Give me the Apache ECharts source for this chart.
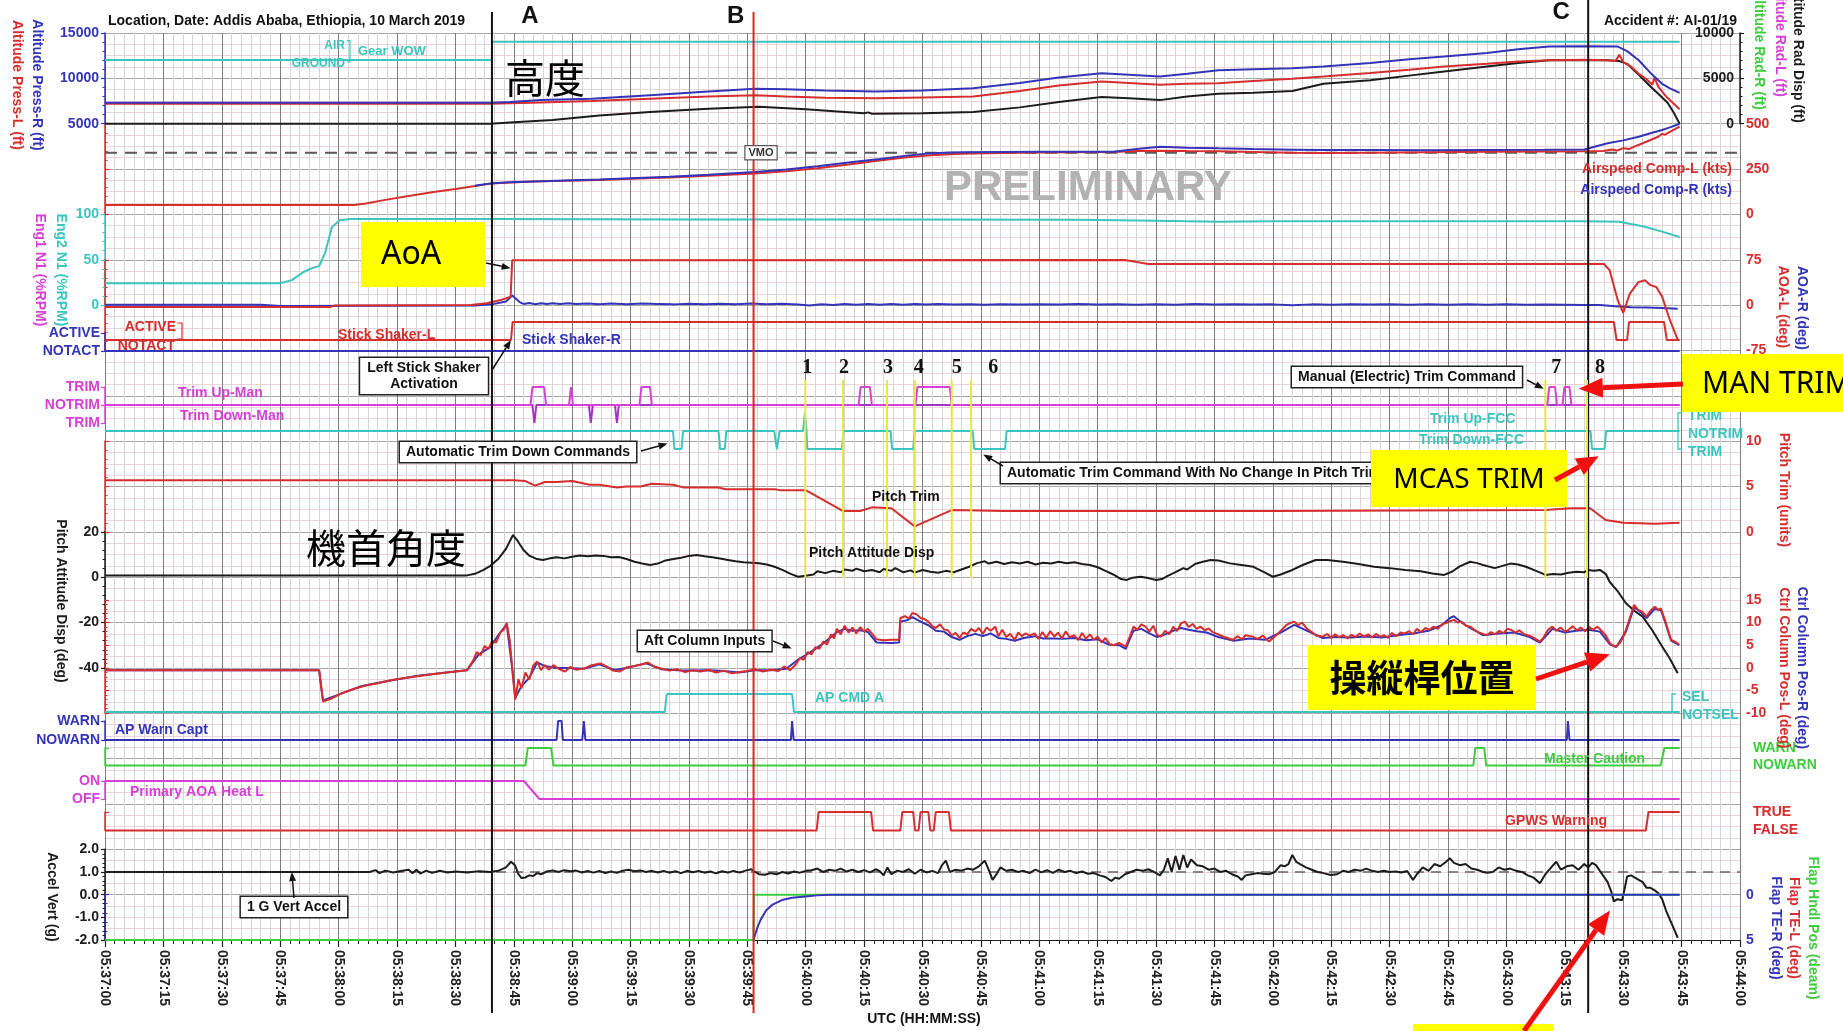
<!DOCTYPE html>
<html>
<head>
<meta charset="utf-8">
<script src="https://cdn.jsdelivr.net/npm/echarts@6/dist/echarts.min.js"></script>
<style>
html,body{margin:0;padding:0;background:#fff;}
#c{width:1843px;height:1031px;}
</style>
</head>
<body>
<div id="c"></div>
<script>
// ---------- flight data traces: [seconds after 05:37:00 UTC, value] ----------
const timeLabels = ['05:37:00','05:37:15','05:37:30','05:37:45','05:38:00','05:38:15','05:38:30','05:38:45',
  '05:39:00','05:39:15','05:39:30','05:39:45','05:40:00','05:40:15','05:40:30','05:40:45','05:41:00','05:41:15',
  '05:41:30','05:41:45','05:42:00','05:42:15','05:42:30','05:42:45','05:43:00','05:43:15','05:43:30','05:43:45','05:44:00'];

const gearWow = [[0,0],[99.4,0],[99.4,1],[404.5,1]];
const gearStates = ['GROUND','AIR'];

const altPressR = [[0,7300],[99,7300],[104,7400],[112,7600],[125,7750],[140,8150],[155,8550],[167,8850],[175,8800],
  [185,8650],[198,8550],[210,8650],[223,8900],[235,9500],[245,10100],[256,10550],[263,10400],[271,10200],[278,10500],
  [286,10900],[295,11000],[305,11100],[313,11300],[325,11700],[335,12100],[344,12400],[355,12800],[363,13200],
  [371,13500],[380,13550],[388.6,13500],[391,13000],[394,12000],[397,10600],[400,9400],[402,8900],[404.5,8400]];
const altPressL = [[0,7200],[99,7200],[104,7250],[112,7350],[125,7500],[140,7750],[155,8000],[167,8150],[175,8000],
  [185,7850],[198,7800],[210,7900],[223,8000],[235,8600],[245,9200],[256,9650],[263,9500],[271,9300],[278,9400],
  [286,9450],[295,9700],[305,9950],[313,10200],[325,10600],[335,10950],[344,11300],[355,11600],[363,11850],
  [371,12000],[380,12050],[386,12000],[388,11900],[389,12600],[390,11800],[392,11300],[394,10500],[396,9900],
  [397.5,9300],[398,10100],[399,9100],[401,8000],[403,7200],[404.5,6600]];
const altRadio = [[0,0],[99,0],[105,150],[115,400],[127,900],[140,1300],[155,1650],[168,1870],[180,1600],[190,1300],
  [195,1150],[196,1250],[197,1100],[210,1150],[223,1300],[235,1800],[245,2400],[256,2950],[263,2800],[271,2600],
  [278,3000],[286,3300],[295,3400],[305,3600],[313,4400],[325,4800],[335,5300],[344,5750],[355,6300],[363,6700],
  [371,7000],[380,7000],[386,7000],[389,6900],[391,6600],[394,5400],[397,4100],[399,3300],[401.4,2300],[403,1200],[404.5,0]];

const vmoKts = 340;
const airspeedL = [[0,52],[64,52],[67,60],[72,80],[78,102],[84,122],[90,140],[95,156],[99.4,171],[104,176],[110,181],
  [118,185],[127,190],[135,196],[145,204],[155,213],[167,226],[175,238],[183,255],[191,275],[199,297],[206,315],
  [212,326],[220,334],[230,339],[240,341],[250,343],[259,344],[265,349],[271,351],[278,349],[286,348],[295,344],
  [305,340],[313,338],[325,340],[340,343],[355,345],[370,347],[380,348],[385,350],[387,358],[388.5,352],[390,365],
  [391.5,360],[393,375],[395,392],[397,410],[399,428],[400,445],[400.6,438],[402,455],[404.5,484]];
const airspeedR = [[95,158],[99.4,172],[104,177],[110,182],[118,187],[127,192],[135,199],[145,208],[155,219],[167,234],
  [175,247],[183,265],[191,286],[199,306],[206,324],[212,337],[220,342],[230,344],[240,345],[250,345],[259,346],
  [265,360],[271,373],[278,368],[286,364],[295,360],[305,357],[313,355],[325,355],[340,354],[355,355],[370,356],
  [380,358],[386,392],[390,408],[394,428],[397,447],[400,465],[402,480],[404.5,500]];

const n1Eng2 = [[0,24],[45,24],[48,27.5],[51,36.5],[53,40.5],[55,43],[56.5,57],[58.3,86],[60.3,93.5],[63,95],[100,95],
  [150,94.5],[200,94.5],[250,94],[270,93],[286,92],[300,92.5],[350,92.5],[380,92.5],[389,92],[395,87],[400,81],[404.5,75]];

const aoaL = [[0,-3],[58,-3],[59,-0.5],[94,0],[98,3],[102,9],[104.2,14],[104.6,74],[262,74.5],[268,68],[385,68],
  [386.5,58],[388.6,8],[390,-13],[391.7,19],[393.9,38],[395.6,41],[397,33],[398.5,30],[400,14],[402,-25],[404,-57]];
const aoaR = [[0,0.5],[40,0.5],[45,-1.5],[95,-0.5],[100,2],[103,6],[104.6,16],[105.5,11],[106.5,5],[107.5,2],[109,3.5],
  [110.5,1.5],[112,3],[113.5,1.8],[115,3.2],[117,2],[119,3],[121,1.8],[124,2.6],[127,1.5],[130,2.5],[134,1.6],[138,2.8],
  [142,2],[146,1.2],[150,2.2],[154,1.5],[158,2.4],[162,1.6],[166,2.5],[170,1.4],[174,2.2],[178,0.8],[181,-0.5],[184,1.5],
  [187,0],[190,1.8],[193,0.5],[196,2],[199,0.6],[202,1.8],[205,0.5],[208,2],[211,1],[214,1.8],[218,0.8],[222,1.6],
  [226,0.6],[230,1.5],[235,0.8],[240,1.6],[245,1],[250,1.8],[255,1],[260,1.5],[265,0.5],[270,1.5],[275,0.6],[280,1.8],
  [285,1],[290,1.6],[295,0.8],[300,1.2],[305,-0.4],[310,1.2],[315,0.6],[320,1.4],[325,0.8],[330,1.2],[335,0.5],[340,1.5],
  [345,0.6],[350,1.3],[355,0.6],[360,1.2],[365,0.5],[370,1],[375,0.6],[380,0.2],[384,0],[388,-2],[392,-3.5],[396,-4],
  [400,-5],[404,-6]];

const shakerStates = ['NOTACT','ACTIVE'];
const shakerL = [[0,0],[104.3,0],[104.7,1],[387.6,1],[388.3,0],[391,0],[391.5,1],[400.5,1],[401.2,0],[404.5,0]];
const shakerR = [[0,0],[404.5,0]];

const trimStates = {'-1':'TRIM','0':'NOTRIM','1':'TRIM'};
const trimUpMan = [[0,0],[109.3,0],[109.8,1],[112.8,1],[113.3,0],[119.2,0],[119.7,1],[120.2,0],[137.3,0],[137.8,1],
  [140,1],[140.5,0],[193.6,0],[194.1,1],[196.5,1],[197,0],[208.2,0],[208.7,1],[217,1],[217.5,0],[370.5,0],[371,1],
  [372.5,1],[373,0],[374.4,0],[374.9,1],[376.2,1],[376.7,0],[404.5,0]];
const trimDownMan = [[0,0],[109.8,0],[110.3,-1],[110.8,0],[124.3,0],[124.8,-1],[125.3,0],[131,0],[131.5,-1],[132,0],[404.5,0]];
const trimFcc = [[0,0],[145.9,0],[146.3,-1],[148.1,-1],[148.5,0],[157.6,0],[158,-1],[159.2,-1],[159.6,0],[171.9,0],
  [172.6,-1],[173.3,0],[179.3,0],[179.8,1],[180.2,0],[180.4,-1],[189.3,-1],[189.7,0],[201.8,0],[202.2,-1],[207.6,-1],
  [208,0],[222.9,0],[223.3,-1],[231.2,-1],[231.6,0],[381.6,0],[382,-1],[385.2,-1],[385.6,0],[404.5,0]];

const pitchTrim = [[0,5.7],[105,5.7],[108,5.6],[110.5,5.1],[113,5.5],[116,5.5],[120,5.6],[124.5,5.2],[127,5.2],
  [131.5,4.9],[134,5],[137.5,5],[140.5,5.3],[146,5.2],[148.5,4.9],[157.5,4.9],[159.5,4.7],[165,4.7],[172,4.7],
  [173.5,4.6],[180,4.6],[189.5,2.3],[194,2.3],[197,2.7],[202,2.6],[208,0.6],[217.5,2.4],[231,2.3],[300,2.3],
  [370,2.4],[376.5,2.6],[381.5,2.6],[385.5,1.3],[390,1],[398,0.9],[404.5,1]];

const pitchAttitude = [[0,0.8],[93,0.8],[95,1.5],[97,3],[99,5],[101,8],[103,12.5],[104.8,18.6],[106,16],[107.5,12],
  [109,9.5],[111,8],[112.5,7.6],[114,8.2],[116,8.8],[118,8.3],[120,9],[122,9.6],[124,9.2],[126,9.6],[128,9.4],[130,8.8],
  [132,8.9],[134,8],[136,6.8],[138,6],[140,5.4],[142,6],[144,7.4],[146,8],[148,8.6],[150,9.4],[152,9.8],[154,9.2],
  [156,8.8],[158,8.2],[160,7.6],[162,7],[164,6.6],[166,6.4],[168,6.2],[170,5.6],[172,4.6],[174,3.2],[176,1.6],[178,0.2],
  [180,0.6],[182,1.2],[183,2.6],[185,1.8],[187,2.8],[189,2.2],[190,3.4],[192,2.8],[193,3.8],[195,2.6],[197,3.2],[199,2.2],
  [200,3.6],[202,2.8],[203,4],[205,2.2],[207,3],[208,2],[210,3.2],[212,2.4],[214,2],[216,2.8],[218,2.2],[220,3.4],
  [222,4.6],[224,6.2],[226,7],[227,6],[229,6.8],[231,5.8],[233,6.6],[235,6],[237,6.8],[239,5.6],[241,6.4],[243,6],
  [245,6.8],[247,6.2],[249,6.6],[251,5.8],[253,5.4],[255,4.4],[257,2.8],[259,1.2],[261,-0.8],[262.5,-1.2],[264,-0.2],
  [266,0.2],[268,-0.4],[270,-1.2],[271.5,-0.8],[273,0.6],[275,2.2],[277,4],[278,3.4],[280,5.8],[282,6.8],[284,7.6],
  [286,7.4],[289,6.1],[292,5.4],[295,4.6],[298,2],[300,0.2],[302,1.2],[305,3.2],[308,5.6],[311,7.6],[314,7.6],[318,6.8],
  [322,5.8],[326,4.6],[330,4],[334,3.2],[338,2.6],[341,1.6],[344,1],[346,2.4],[348,4.8],[350.7,6.8],[352.5,6.2],[354,5.4],
  [357,4],[359,5],[361,6],[363,5.6],[365,4.6],[367,3.2],[369,1.8],[370,1],[372,1.4],[374,1.2],[376,2],[378,2.4],[380,2.2],
  [381,3.2],[382.5,2.8],[384,3.2],[385.5,1.5],[386.5,-2],[388.5,-6],[390.7,-11.5],[393,-15],[395,-17.4],[397.5,-23.5],
  [400,-30.6],[402,-36],[404,-42.4]];

const columnL = [[0,-0.5],[55,-0.5],[56,-7.4],[58,-6.8],[61,-5.5],[64,-4.6],[67,-3.9],[70,-3.4],[74,-2.6],[78,-2.1],
  [82,-1.6],[86,-1.2],[90,-0.8],[93,-0.5],[94.5,1.5],[95.5,3.5],[96.5,2.8],[97.5,4.8],[98.5,4.2],[99.5,6],[100.5,5.6],
  [101.5,7.8],[102.5,8.5],[103.2,9.9],[104,6],[104.8,-2],[105.4,-7],[106.2,-2.5],[107,-4.5],[108,-1],[109,-2.6],
  [110,0.5],[111,1.4],[112,-0.5],[113,0.6],[114,-0.4],[115.2,0.6],[116.5,-0.2],[118.2,-0.8],[119.5,0.2],[121,-0.4],
  [123.3,-0.1],[125,0.6],[127.3,1],[129,0.2],[130.5,-0.6],[132.2,-0.8],[134,0.1],[136,0.4],[138,0.8],[139.5,1.2],
  [141,0.3],[143,-0.2],[145,-0.6],[147,-0.3],[149,-0.9],[151,-0.5],[153,-0.8],[155,-0.4],[157,-1],[159,-0.6],
  [161,-1.2],[163,-0.9],[165,-0.7],[167,-0.3],[169,-0.8],[171,-0.4],[173,-0.7],[174.5,0.3],[176,-0.5],[177.5,0.8],
  [178.5,2.2],[179.5,1.8],[180.5,3.5],[181.5,3],[182.5,4.6],[183.5,4.2],[184.5,5.8],[185.5,5.2],[186.5,7.4],[187.3,6.5],
  [188,8.6],[189,7.4],[190,9.3],[191,7.8],[192,8.9],[193,7.6],[194,9],[195,8],[196,8.6],[197.2,7.4],[198.2,6.3],
  [200,6.1],[202,6.2],[204,6.2],[204.3,11],[205.5,11.4],[206.5,10.9],[207.4,12.1],[208.5,11.8],[209.5,11],[210.4,10.8],
  [211.5,10.2],[212.5,9.2],[213.4,8.8],[214.5,9.6],[215.5,8.5],[216.5,8.3],[217.5,7.2],[218.5,7.7],[219.5,6.6],
  [220.5,7.8],[221.5,7.4],[222.5,8.6],[223.6,8],[224.5,8.8],[225.5,7.5],[226.5,8.9],[227.5,8.2],[228.7,9.1],[229.5,7],
  [230.5,8.4],[231.5,6.8],[232.5,7.5],[233.7,6.2],[234.6,7.8],[235.5,7],[236.5,7.6],[237.5,7.1],[238.8,7.6],[239.8,6.4],
  [240.8,7.9],[241.8,6.6],[242.8,8.1],[243.9,6.9],[244.8,7.8],[245.8,6.5],[246.8,8],[247.8,6.8],[249,7.2],[250,6.1],
  [251,7.7],[252,6.4],[253,7.4],[254,6.2],[255,6.9],[256,5.6],[257,6.6],[258,5.3],[259.1,5],[260.5,5.5],[262.2,4.7],
  [263.2,6.8],[264.2,9.1],[265.2,8.4],[266.2,9.6],[267.3,9.1],[268.3,8],[269.3,9.3],[270.3,7.2],[271.3,6.9],[272.3,8.2],
  [273.4,7.4],[274.4,9.1],[275.4,8.1],[276.4,9.8],[277.4,10.2],[278.4,9],[279.4,9.7],[280.4,8.6],[281.4,9.1],[282.5,8.3],
  [283.5,8.7],[284.5,7.9],[285.4,7.6],[286.5,7.2],[287.6,6.8],[289.7,6.2],[291,7],[292,6.3],[293,7.2],[294.8,6.9],
  [296,6.4],[297.5,7.1],[299,5.8],[300.5,6.9],[302.3,8.4],[303.5,9.5],[304.5,9.9],[305.5,10.2],[306.5,9.4],[307.5,10],
  [308.7,8.7],[310,7.9],[311.2,7.1],[312.8,6.9],[314,7.5],[315,6.6],[316,7.4],[317,6.8],[318.1,7.2],[319.2,6.5],
  [320.2,7.3],[321.3,6.8],[322.3,7.6],[323.4,6.9],[324.5,7.4],[325.5,6.7],[326.5,7.5],[327.5,6.9],[328.6,7.2],
  [329.6,6.6],[330.6,7.7],[331.7,7],[332.8,7.8],[333.9,7.6],[335,8.1],[336,7.4],[337,8.6],[338,7.9],[339.2,8.8],
  [340.2,8.4],[341.3,9.1],[342.4,8.6],[343.4,9.6],[344.5,9.9],[345.5,10.3],[346.5,10.6],[347.5,10],[348.5,10.2],
  [349.6,9.3],[350.7,9.1],[351.8,8.4],[352.8,7.9],[354,7.5],[355,7.2],[356,7.9],[357.1,7.4],[358.2,8.2],[359.2,7.6],
  [360.2,8.6],[361.2,8.4],[362.3,7.8],[363.3,8.3],[364.4,7.5],[365.5,7.2],[366.5,6.9],[367.5,6.4],[368.6,5.8],
  [369.6,6.8],[370.7,8.4],[371.8,9.1],[372.8,8.2],[373.9,8.9],[375,8],[376,8.4],[377,9.2],[378.1,8.3],[379.1,8.9],
  [380.2,8.1],[381.3,9],[382.3,8.4],[383.4,9.1],[384.4,8.2],[385.5,7.2],[386.6,5.4],[387.4,4.9],[388.2,4.7],[389.2,5.6],
  [390,6.8],[390.7,8.4],[391.7,11],[392.8,13.9],[393.8,12.8],[394.9,12.4],[396,11.3],[397,12.6],[398.1,13.5],[399,12.8],
  [399.7,13.1],[400.7,10.6],[401.5,8.4],[402.3,6.2],[403.3,5.8],[404.4,5.1]];
const columnR = [[0,-0.5],[55,-0.5],[56,-7.2],[60,-5.9],[66,-4],[72,-3],[80,-1.8],[90,-0.8],[93,-0.5],[96,3],[99,4.6],
  [101,7.2],[103.2,9.6],[104.8,-1.5],[105.4,-6.6],[107,-4],[109,-2.2],[111,1.2],[113,0.4],[116,0],[119,0],[123,-0.2],
  [127,0.8],[131,-0.5],[135,0.2],[139,1],[143,-0.3],[147,-0.5],[151,-0.6],[155,-0.5],[159,-0.7],[163,-1],[167,-0.5],
  [171,-0.5],[175,-0.2],[178,1.8],[180.5,3.1],[182.5,4.2],[184.5,5.4],[186.5,6.8],[188,7.9],[190,8.6],[192,8.2],
  [194,8.3],[196,7.9],[198.2,5.6],[202,5.5],[204,5.6],[204.3,10.2],[206,10.5],[207.4,11.2],[209.5,10.2],[211.5,9.4],
  [213.4,8.2],[215.5,8],[217.5,6.8],[219.5,6.2],[221.5,7],[223.6,7.5],[225.5,7],[227.5,7.6],[229.5,6.6],[231.5,6.4],
  [233.7,6],[236,6.6],[238.8,7],[241,6.5],[243.9,6.5],[246,6.4],[249,6.6],[252,6.1],[255,6.3],[258,5.1],[260.5,5],
  [262.2,4.2],[264.2,8.2],[266.2,8.6],[268.3,7.6],[270.3,6.8],[272.3,7.4],[274.4,8.2],[276.4,8.8],[278.4,8.4],
  [280.4,8.1],[283,7.8],[286,6.8],[290,6],[294,6.5],[298,6.2],[302,7.8],[305.5,9.5],[308.7,8.2],[312.8,6.6],[316,6.8],
  [320,6.7],[324,6.9],[328,6.7],[332,7.2],[336,7.6],[340,8.2],[343.4,9.4],[345.5,11],[346.5,11.4],[348.5,10],
  [350.7,8.8],[354,7.2],[358,7.6],[362,7.8],[366,6.8],[368.6,5.6],[371.8,8.6],[375,7.8],[378,8.2],[381,8.4],[384,8],
  [386.6,5.2],[388.2,4.6],[390.7,8],[392.8,13.4],[394.9,12],[396,11],[398.1,13],[399.7,12.7],[400.7,10.3],[402.3,6],[404.4,5]];

const selStates = ['NOTSEL','SEL'];
const apCmdA = [[0,0],[143.8,0],[144.3,1],[176.5,1],[177,0],[404.5,0]];
const warnStates = ['NOWARN','WARN'];
const apWarnCapt = [[0,0],[116,0],[116.4,1],[117.3,1],[117.6,0],[122.6,0],[123,1],[123.4,0],[176.2,0],[176.5,1],
  [176.9,0],[375.5,0],[375.8,1],[376.2,0],[404.5,0]];
const masterCaution = [[0,0],[108,0],[108.6,1],[114.6,1],[115.2,0],[351.5,0],[352,1],[354.3,1],[354.8,0],[399.6,0],
  [400.6,1],[404.5,1]];
const heatStates = ['OFF','ON'];
const aoaHeatL = [[0,1],[107.6,1],[111.6,0],[404.5,0]];
const gpwsStates = ['FALSE','TRUE'];
const gpwsWarning = [[0,0],[182.8,0],[183.3,1],[196.8,1],[197.3,0],[204.3,0],[204.8,1],[207.6,1],[208.1,0],[209,0],
  [209.5,1],[211.5,1],[212,0],[212.9,0],[213.4,1],[216.8,1],[217.3,0],[395.8,0],[396.5,1],[404.5,1]];

const vertAccel = [[0,1],[68,1],[69.5,1.08],[70.5,0.95],[72,1.06],[74,0.98],[76,1.04],[78,1.1],[79,0.94],[80,1.1],
  [81,0.93],[82.5,1.06],[84,0.96],[86,1.05],[88,0.98],[90,1.02],[93,0.98],[96,1.03],[99,1],[101,1.05],[103,1.2],
  [104.3,1.45],[105.3,1.3],[106.2,0.9],[107,0.73],[108,0.76],[109,0.85],[110,0.82],[111,0.95],[112,0.9],[113.5,1.02],
  [115,1.07],[116.5,1],[118,1.08],[119.5,1.03],[121,1.06],[122.5,0.98],[124,1.04],[125.5,0.97],[127,1.05],[128.5,0.95],
  [130,1.02],[131.5,0.96],[133,1.06],[134.5,1.1],[136,1.03],[137.5,1.07],[139,1],[140.5,1.05],[142,0.98],[143.5,1.04],
  [145,0.97],[146.5,1.03],[148,0.95],[149.5,1.05],[151,0.99],[152.5,1.04],[154,0.97],[155.5,1.02],[157,0.94],
  [158.5,1.03],[160,0.98],[161.5,1.05],[163,0.97],[164.5,1.06],[166,1.12],[167,1],[168,0.9],[169.5,0.88],[171,0.95],
  [172.5,0.9],[174,1],[175.5,0.93],[177,1.02],[178.5,0.97],[180,1.05],[181.5,1.08],[183,1.15],[184.5,1],[186,1.1],
  [187.5,1.05],[189,1.15],[190.5,1.02],[192,1.1],[193.5,1],[195,1.08],[196.5,0.98],[198,1.12],[199,1.04],[200,0.85],
  [201,1.2],[202,0.9],[203.5,1.06],[205,1],[206.5,1.12],[208,0.92],[209.5,1.1],[211,0.98],[212.5,1.05],[214,0.95],
  [215,1.3],[216,1.5],[217,1],[218.5,1.1],[220,1.06],[221.5,1.15],[223,1.1],[224.5,1.25],[226,1.5],[227,1.1],[228,0.65],
  [229,0.9],[230,1.2],[231.5,1.05],[233,1.1],[234.5,1],[236,1.05],[237.5,0.95],[239,1.1],[240.5,0.98],[242,1.08],
  [243.5,0.96],[245,1.1],[246.5,1],[248,1.05],[249.5,0.95],[251,1.02],[252.5,0.92],[254,0.95],[255.5,0.85],[257,0.78],
  [258.5,0.6],[259.5,0.75],[260.5,0.7],[262,0.9],[263.5,1],[265,1.1],[266.5,1.05],[268,1.12],[269.5,1],[271,0.85],
  [272,1.1],[273,1.6],[274,1],[275,1.7],[276,1.1],[277,1.75],[278,1.2],[279,1.55],[280.5,1.3],[282,1.25],[283.5,1.1],
  [285,1.15],[286.5,1],[288,1.05],[289.5,0.9],[291,0.8],[292,0.65],[293,0.85],[294.5,0.9],[296,0.95],[297.5,0.92],
  [299,0.9],[300.5,1],[302,1.3],[303,1.25],[304,1.35],[305,1.75],[306,1.45],[307,1.35],[308.5,1.2],[310,1.1],[311.5,1],
  [313,0.95],[314.8,0.87],[316.5,0.9],[318,1.05],[319.5,1],[321,1.1],[322.5,1.05],[324,1.15],[325.5,1.05],[327,1],
  [328.5,1.05],[330,1],[331.5,1.02],[333,0.98],[334.5,1.04],[336,0.65],[337,0.9],[338.5,1.2],[340,1.05],[341.5,1.35],
  [343,1.25],[344.5,1.45],[345.5,1.6],[346.5,1.4],[348,1.3],[349.5,1.35],[351,1.15],[352.5,1.1],[354,1],[355,0.96],
  [356.5,1],[358,1.2],[359.5,1.1],[361,1.15],[362.5,1.05],[364,1],[365.5,0.85],[367,0.75],[368.6,0.5],[370,0.9],
  [371.5,1.2],[372.8,1.45],[374,1.1],[375.5,1.25],[377,1.3],[378.5,1.1],[380,1.35],[381,1.2],[382,1.4],[383,1.3],
  [384,1.05],[385,0.8],[386,0.55],[387,0.1],[387.6,-0.3],[388.5,-0.2],[389.7,-0.25],[390.3,0.2],[391,0.8],[392,0.85],
  [393,0.75],[394,0.65],[395,0.55],[396,0.3],[397,0.3],[398,0.2],[399,0.07],[400,-0.2],[401,-0.7],[402,-1.1],[403,-1.5],[404,-1.9]];
const oneG = [[0,1],[420,1]];

const flapHandle = [[0,5],[166.6,5],[166.7,0],[404.5,0]];
const flapTE = [[166.6,5],[167,4.4],[167.7,3.5],[168.5,2.7],[169.9,1.7],[171.5,1.1],[173.9,0.6],[176.5,0.35],
  [179.9,0.2],[183,0.08],[186,0],[404.5,0]];

const eventMarks = [{name:'A', t:99.4}, {name:'B', t:166.6}, {name:'C', t:381}];
const trimEvents = [179.9, 189.6, 200.9, 208.0, 217.5, 222.5, 370.0, 380.7];
const trimEventNames = ['1','2','3','4','5','6','7','8'];

// ---------- layout ----------
const L = 105, R = 1740, PW = R - L;
const TOP = 33, MAJ = 45.35;
const yk = k => TOP + k * MAJ;
const FAM = '"Liberation Sans", Arial, sans-serif';
const FS = 14;
const BLUE = '#3434b8', RED = '#d62e2e', CYAN = '#3cc4bf', MAG = '#d640d6', PURP = '#a532c4',
      GREEN = '#3ecb3e', BLACK = '#1c1c1c', YEL = '#e6e645';

const grids = [], xAxis = [], yAxis = [], series = [];
function addGrid(top, height, xcfg) {
  grids.push({left: L, top: top, width: PW, height: height});
  const gi = grids.length - 1;
  xAxis.push(Object.assign({type: 'value', gridIndex: gi, min: 0, max: 420, show: false}, xcfg || {}));
  return gi;
}
function addY(gi, cfg) {
  yAxis.push(Object.assign({type: 'value', gridIndex: gi, splitLine: {show: false}, axisLine: {show: false},
    axisTick: {show: false}, axisLabel: {show: false}}, cfg));
  return yAxis.length - 1;
}
const lab = (color, extra) => Object.assign({show: true, color: color, fontFamily: 'Liberation Sans',
  fontWeight: 'bold', fontSize: FS, margin: 6, formatter: v => String(v)}, extra || {});
const aline = color => ({show: true, lineStyle: {color: color, width: 1.5}});
const atick = color => ({show: true, length: 4, lineStyle: {color: color, width: 1.2}});
const mtick = color => ({show: true, splitNumber: 5, length: 2.5, lineStyle: {color: color}});
function numAxis(gi, pos, min, max, interval, color, extra) {
  return addY(gi, Object.assign({position: pos, min: min, max: max, interval: interval,
    axisLine: aline(color), axisTick: atick(color), minorTick: mtick(color), axisLabel: lab(color)}, extra || {}));
}
function stateAxis(gi, pos, min, names, color, extra) {
  return addY(gi, Object.assign({position: pos, min: min, max: 1, interval: 1,
    axisLine: aline(color), axisTick: atick(color),
    axisLabel: lab(color, {margin: 5, formatter: v => names[v]})}, extra || {}));
}

// background grid: fine lines, then the heavier 15 s / major lines with the time axis
const gFine = addGrid(TOP, 20 * MAJ, {show: true, interval: 2.5, axisLine: {show: false}, axisTick: {show: false},
  axisLabel: {show: false}, splitLine: {show: true, lineStyle: {color: '#d6d6d6', width: 1}}});
addY(gFine, {min: 0, max: 80, interval: 1, splitLine: {show: true, lineStyle: {color: '#edd3d9', width: 1}}});
const gMain = addGrid(TOP, 20 * MAJ, {show: true, interval: 15,
  splitLine: {show: true, lineStyle: {color: '#7c7c7c', width: 1}},
  axisLine: {show: true, lineStyle: {color: '#222', width: 1.2}},
  axisTick: {show: true, length: 7, lineStyle: {color: '#222', width: 1.2}},
  minorTick: {show: true, splitNumber: 6, length: 4, lineStyle: {color: '#222'}},
  axisLabel: {show: true, rotate: -90, margin: 10, color: '#222', fontFamily: 'Liberation Sans', fontWeight: 'bold',
    fontSize: FS, formatter: v => timeLabels[Math.round(v / 15)]}});
addY(gMain, {min: 0, max: 20, interval: 1, splitLine: {show: true, lineStyle: {color: '#a6a6a6', width: 1}}});

// analogue bands
const gAlt = addGrid(yk(0), 2 * MAJ);
const yAltP = numAxis(gAlt, 'left', 5000, 15000, 5000, BLUE);
const yAltR = numAxis(gAlt, 'right', 0, 10000, 5000, BLACK, {axisLabel: lab(BLACK, {inside: true})});
const gSpd = addGrid(yk(2), 2 * MAJ);
const ySpd = numAxis(gSpd, 'right', 0, 500, 250, RED);
const gN1 = addGrid(yk(4), 2 * MAJ);
const yN1 = numAxis(gN1, 'left', 0, 100, 50, CYAN);
const gAoa = addGrid(yk(5), 2 * MAJ);
const yAoa = numAxis(gAoa, 'right', -75, 75, 75, RED);
const gTrim = addGrid(yk(9), 2 * MAJ);
const yTrim = numAxis(gTrim, 'right', 0, 10, 5, RED);
const gPitch = addGrid(yk(11), 3 * MAJ);
const yPitch = numAxis(gPitch, 'left', -40, 20, 20, BLACK);
const gCtrl = addGrid(yk(14) - 1.5 * MAJ, 2.5 * MAJ);
const yCtrl = numAxis(gCtrl, 'right', -10, 15, 5, RED);
const gAcc = addGrid(yk(18), 2 * MAJ);
const yAcc = numAxis(gAcc, 'left', -2, 2, 1, BLACK, {axisLabel: lab(BLACK, {formatter: v => v.toFixed(1)})});
const gFlap = addGrid(yk(19), MAJ);
const yFlap = numAxis(gFlap, 'right', 0, 5, 5, BLUE, {inverse: true});

// discrete bands
const gWow = addGrid(41.7, 18.3);
const yWow = addY(gWow, {min: 0, max: 1});
const gSsL = addGrid(322, 18);
const ySsL = addY(gSsL, {min: 0, max: 1});
const gSsR = addGrid(333, 18);
const ySsR = stateAxis(gSsR, 'left', 0, shakerStates, BLUE);
const gTMan = addGrid(387, 36);
const yTMan = stateAxis(gTMan, 'left', -1, trimStates, MAG);
const gTFcc = addGrid(413, 36);
const yTFcc = addY(gTFcc, {min: -1, max: 1});
const gAp = addGrid(694, 18);
const yAp = addY(gAp, {min: 0, max: 1});
const gApW = addGrid(721, 19);
const yApW = stateAxis(gApW, 'left', 0, warnStates, BLUE);
const gMc = addGrid(748, 17.5);
const yMc = stateAxis(gMc, 'right', 0, warnStates, GREEN, {offset: 8});
const gHeat = addGrid(781, 18);
const yHeat = stateAxis(gHeat, 'left', 0, heatStates, MAG);
const gGpws = addGrid(812, 18.5);
const yGpws = stateAxis(gGpws, 'right', 0, gpwsStates, RED, {offset: 8});

function addLine(gi, yi, data, color, extra) {
  series.push(Object.assign({type: 'line', xAxisIndex: gi, yAxisIndex: yi, data: data, showSymbol: false,
    symbol: 'none', silent: true, animation: false, clip: false, z: 3,
    lineStyle: {color: color, width: 2}, itemStyle: {color: color}}, extra || {}));
}
addLine(gWow, yWow, gearWow, CYAN);
addLine(gAlt, yAltR, altRadio, BLACK);
addLine(gAlt, yAltP, altPressL, RED);
addLine(gAlt, yAltP, altPressR, BLUE);
addLine(gSpd, ySpd, [[0, vmoKts], [420, vmoKts]], '#585858', {lineStyle: {color: '#585858', width: 2, type: [12, 8]}});
addLine(gSpd, ySpd, airspeedL, RED);
addLine(gSpd, ySpd, airspeedR, BLUE);
addLine(gN1, yN1, n1Eng2, CYAN);
addLine(gAoa, yAoa, aoaR, BLUE);
addLine(gAoa, yAoa, aoaL, RED);
addLine(gSsL, ySsL, shakerL, RED);
addLine(gSsR, ySsR, shakerR, BLUE);
addLine(gTMan, yTMan, trimDownMan, PURP);
addLine(gTMan, yTMan, trimUpMan, MAG);
addLine(gTFcc, yTFcc, trimFcc, CYAN);
addLine(gTrim, yTrim, pitchTrim, RED);
addLine(gPitch, yPitch, pitchAttitude, BLACK);
addLine(gCtrl, yCtrl, columnR, BLUE);
addLine(gCtrl, yCtrl, columnL, RED);
addLine(gAp, yAp, apCmdA, CYAN);
addLine(gApW, yApW, apWarnCapt, BLUE);
addLine(gMc, yMc, masterCaution, GREEN);
addLine(gHeat, yHeat, aoaHeatL, MAG);
addLine(gGpws, yGpws, gpwsWarning, RED);
addLine(gAcc, yAcc, oneG, '#666', {lineStyle: {color: '#666', width: 1.5, type: [10, 7]}});
addLine(gAcc, yAcc, vertAccel, BLACK);
addLine(gFlap, yFlap, flapHandle, GREEN);
addLine(gFlap, yFlap, flapTE, BLUE);

const chart = echarts.init(document.getElementById('c'), null, {renderer: 'canvas'});
chart.setOption({animation: false, backgroundColor: '#ffffff', grid: grids, xAxis: xAxis, yAxis: yAxis, series: series});

// ---------- annotations ----------
const X = t => chart.convertToPixel({xAxisIndex: gMain}, t);
const Y = (yi, v) => chart.convertToPixel({yAxisIndex: yi}, v);
const P = (yi, t, v) => [X(t), Y(yi, v)];
const g = [];
function text(x, y, s, color, size, o) {
  o = o || {};
  const al = o.align || 'left';
  return {type: 'text', x: x, y: y, rotation: o.rot || 0, z: o.z || 50, silent: true,
    style: Object.assign({text: s, fill: color, font: o.font || ('bold ' + (size || FS) + 'px ' + FAM),
      textAlign: al, align: al, textVerticalAlign: 'middle', verticalAlign: 'middle'}, o.style || {})};
}
function seg(x1, y1, x2, y2, color, w, z) {
  return {type: 'line', silent: true, z: z || 45, shape: {x1: x1, y1: y1, x2: x2, y2: y2},
    style: {stroke: color, lineWidth: w || 1.5}};
}
function poly(points, color, w, z) {
  return {type: 'polyline', silent: true, z: z || 45, shape: {points: points},
    style: {stroke: color, lineWidth: w || 1.5, fill: 'none'}};
}
function arrow(x1, y1, tip, color, w, hl, hw, z) {
  const x2 = tip[0], y2 = tip[1];
  const a = Math.atan2(y2 - y1, x2 - x1);
  const bx = x2 - hl * Math.cos(a), by = y2 - hl * Math.sin(a);
  const px = -Math.sin(a) * hw / 2, py = Math.cos(a) * hw / 2;
  return [seg(x1, y1, bx, by, color, w, z),
    {type: 'polygon', silent: true, z: z, shape: {points: [[x2, y2], [bx + px, by + py], [bx - px, by - py]]},
      style: {fill: color}}];
}
function boxed(x, y, s, o) {
  o = o || {};
  return text(x, y, s, '#111', FS, {align: o.align || 'left', z: o.z || 60, style: {backgroundColor: '#fff',
    borderColor: '#222', borderWidth: 1.5, padding: o.pad || [2, 6], lineHeight: 16}});
}
// bracket with state names to its right, one name per level
function stateLabels(x, yi, levels, names, color) {
  const ys = levels.map(v => Y(yi, v));
  const top = Math.min.apply(null, ys), bot = Math.max.apply(null, ys);
  g.push(poly([[x + 4, top], [x, top], [x, bot], [x + 4, bot]], color, 1.3));
  levels.forEach((v, i) => g.push(text(x + 10, ys[i] + 3, names[v], color, FS)));
}

// header
g.push(text(108, 21, 'Location, Date: Addis Ababa, Ethiopia, 10 March 2019', '#111', FS));
g.push(text(1737, 21, 'Accident #: AI-01/19', '#111', FS, {align: 'right'}));

// event lines A, B, C
const letterDx = [38, -18, -27];
eventMarks.forEach((m, i) => {
  const x = X(m.t);
  const col = m.name === 'B' ? '#e02424' : '#111';
  g.push(seg(x, m.name === 'C' ? 0 : 12, x, 1013, col, 2, 40));
  g.push(text(x + letterDx[i], m.name === 'C' ? 12 : 16, m.name, '#111', 24, {align: 'center'}));
});

// stabilizer trim events 1-8
const numDx = [2, 1, 1, 4, 5, 22, 11, 13];
trimEvents.forEach((t, i) => {
  const x = X(t);
  g.push(seg(x, 380, x, 578, YEL, 2, 41));
  g.push(text(x + numDx[i], 368, trimEventNames[i], '#111', 20,
    {align: 'center', font: 'bold 20px "Liberation Serif", "Times New Roman", serif'}));
});

// gear WOW state labels
const yAir = Y(yWow, 1), yGnd = Y(yWow, 0);
g.push(text(345, yAir + 4, gearStates[1], CYAN, 12, {align: 'right'}));
g.push(text(345, yGnd + 4, gearStates[0], CYAN, 12, {align: 'right'}));
g.push(poly([[347, yAir - 1], [350, yAir - 1], [350, yGnd + 2], [347, yGnd + 2]], CYAN, 1.2));
g.push(text(358, 51, 'Gear WOW', CYAN, 13));

// airspeed
g.push(text(761, Y(ySpd, vmoKts), 'VMO', '#333', 11, {align: 'center', z: 55,
  style: {backgroundColor: '#fff', borderColor: '#555', borderWidth: 1.2, padding: [1, 3]}}));
g.push(text(944, 188, 'PRELIMINARY', '#b2b2b2', 42, {z: 30}));
g.push(text(1732, 169, 'Airspeed Comp-L (kts)', RED, FS, {align: 'right'}));
g.push(text(1732, 190, 'Airspeed Comp-R (kts)', BLUE, FS, {align: 'right'}));

// stick shaker
g.push(text(176, 327, shakerStates[1], RED, FS, {align: 'right'}));
g.push(text(175, 346, shakerStates[0], RED, FS, {align: 'right'}));
g.push(poly([[177, 323], [182, 323], [182, 339], [177, 339]], RED, 1.2));
g.push(text(338, 335, 'Stick Shaker-L', RED, FS));
g.push(text(522, 340, 'Stick Shaker-R', BLUE, FS));
g.push(boxed(424, 376, 'Left Stick Shaker\nActivation', {align: 'center', pad: [2, 7]}));
g.push(...arrow(492, 370, P(ySsL, 104.3, 0), '#111', 1.5, 9, 7, 61));

// trim
g.push(text(178, 393, 'Trim Up-Man', MAG, FS));
g.push(text(180, 416, 'Trim Down-Man', MAG, FS));
g.push(text(1430, 419, 'Trim Up-FCC', CYAN, FS));
g.push(text(1419, 440, 'Trim Down-FCC', CYAN, FS));
stateLabels(1678, yTFcc, [1, 0, -1], trimStates, CYAN);
g.push(boxed(400, 452, 'Automatic Trim Down Commands'));
g.push(...arrow(641, 451, P(yTFcc, 144.5, -0.7), '#111', 1.5, 9, 7, 61));
g.push(boxed(1001, 473, 'Automatic Trim Command With No Change In Pitch Trim'));
g.push(...arrow(1003, 466, P(yTFcc, 225.6, -1.3), '#111', 1.5, 9, 7, 61));
g.push(boxed(1292, 377, 'Manual (Electric) Trim Command'));
g.push(...arrow(1527, 380, P(yTMan, 369.6, 0.9), '#111', 1.5, 9, 7, 61));
g.push(text(872, 497, 'Pitch Trim', '#111', FS));

// attitude / column
g.push(text(809, 553, 'Pitch Attitude Disp', '#111', FS));
g.push(boxed(638, 641, 'Aft Column Inputs'));
g.push(...arrow(773, 641, P(yCtrl, 176.4, 4.3), '#111', 1.5, 9, 7, 61));

// discrete annunciations
stateLabels(1672, yAp, [1, 0], selStates, CYAN);
g.push(text(815, 698, 'AP CMD A', CYAN, FS));
g.push(text(115, 730, 'AP Warn Capt', BLUE, FS));
g.push(text(1544, 759, 'Master Caution', GREEN, FS));
g.push(text(130, 792, 'Primary AOA Heat L', MAG, FS));
g.push(text(1505, 821, 'GPWS Warning', RED, FS));

// acceleration
g.push(boxed(294, 907, '1 G Vert Accel', {align: 'center'}));
g.push(...arrow(294, 898, P(yAcc, 48, 1.0), '#111', 1.5, 9, 7, 61));
g.push(text(924, 1019, 'UTC (HH:MM:SS)', '#111', FS, {align: 'center'}));

// rotated axis titles
const vt = (x, y, s, c, al) => text(x, y, s, c, FS, {rot: -Math.PI / 2, align: al || 'center'});
g.push(vt(17, 85, 'Altitude Press-L (ft)', RED));
g.push(vt(37, 85, 'Altitude Press-R (ft)', BLUE));
g.push(vt(40, 270, 'Eng1 N1 (%RPM)', MAG));
g.push(vt(61, 270, 'Eng2 N1 (%RPM)', CYAN));
g.push(vt(61, 601, 'Pitch Attitude Disp (deg)', BLACK));
g.push(vt(52, 897, 'Accel Vert (g)', BLACK));
g.push(vt(1759, 110, 'Altitude Rad-R (ft)', GREEN, 'right'));
g.push(vt(1780, 97, 'Altitude Rad-L (ft)', MAG, 'right'));
g.push(vt(1798, 123, 'Altitude Rad Disp (ft)', BLACK, 'right'));
g.push(vt(1783, 307, 'AOA-L (deg)', RED));
g.push(vt(1802, 308, 'AOA-R (deg)', BLUE));
g.push(vt(1784, 490, 'Pitch Trim (units)', RED));
g.push(vt(1784, 668, 'Ctrl Column Pos-L (deg)', RED));
g.push(vt(1802, 668, 'Ctrl Column Pos-R (deg)', BLUE));
g.push(vt(1776, 928, 'Flap TE-R (deg)', BLUE));
g.push(vt(1794, 928, 'Flap TE-L (deg)', RED));
g.push(vt(1813, 928, 'Flap Hndl Pos (deam)', GREEN));

// Japanese call-outs
const JP = '"Noto Sans CJK JP", "Noto Sans CJK SC", sans-serif';
g.push(text(505, 78, '高度', '#000', 40, {font: '40px ' + JP, z: 70}));
g.push(text(306, 548, '機首角度', '#000', 40, {font: '40px ' + JP, z: 70}));
g.push({type: 'rect', silent: true, z: 70, shape: {x: 361, y: 222, width: 124, height: 65}, style: {fill: '#ffff00'}});
g.push(text(381, 255, 'AoA', '#000', 32, {font: '32px "Noto Sans", sans-serif', z: 71}));
g.push(...arrow(486, 263, P(yAoa, 104.2, 61), '#111', 1.5, 9, 7, 71));
g.push({type: 'rect', silent: true, z: 70, shape: {x: 1308, y: 645, width: 228, height: 65}, style: {fill: '#ffff00'}});
g.push(text(1422, 678, '操縦桿位置', '#000', 37, {font: 'bold 37px ' + JP, align: 'center', z: 71}));
g.push({type: 'rect', silent: true, z: 70, shape: {x: 1682, y: 354, width: 170, height: 58}, style: {fill: '#ffff00'}});
g.push(text(1702, 384, 'MAN TRIM', '#000', 30, {font: '30px "Noto Sans", sans-serif', z: 71}));
g.push({type: 'rect', silent: true, z: 70, shape: {x: 1371, y: 450, width: 196, height: 57}, style: {fill: '#ffff00'}});
g.push(text(1469, 480, 'MCAS TRIM', '#000', 28, {font: '28px "Noto Sans", sans-serif', align: 'center', z: 71}));
g.push({type: 'rect', silent: true, z: 70, shape: {x: 1413, y: 1024, width: 140, height: 10}, style: {fill: '#ffff00'}});
g.push(...arrow(1683, 384, P(yTMan, 378.6, 0.9), '#f01010', 5, 24, 20, 80));
g.push(...arrow(1555, 480, P(yTFcc, 383.7, -1.4), '#f01010', 5, 22, 19, 80));
g.push(...arrow(1536, 679, P(yCtrl, 386.6, 3), '#f01010', 5, 24, 20, 80));
g.push(...arrow(1524, 1031, P(yAcc, 386.6, -0.7), '#f01010', 5, 24, 20, 80));

chart.setOption({graphic: {elements: g}});
</script>
</body>
</html>
